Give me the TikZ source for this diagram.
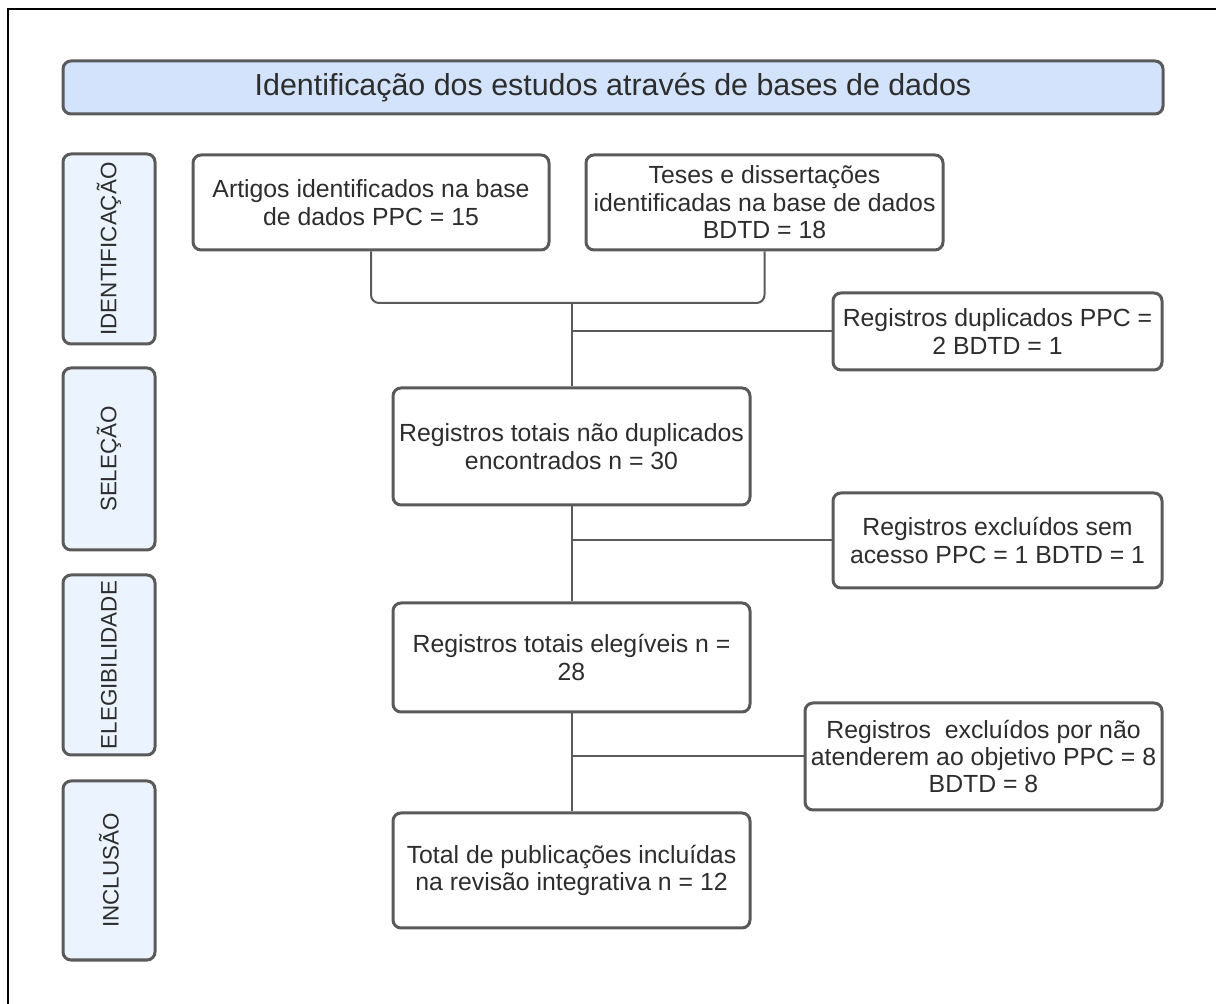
\documentclass[tikz,border=0pt]{standalone}
\usepackage{fontspec}
\setmainfont{Liberation Sans}
\usepackage{tikz}
\usetikzlibrary{calc}
\definecolor{edge}{RGB}{90, 90, 90}
\definecolor{ink}{RGB}{45, 45, 45}
\definecolor{headfill}{RGB}{210, 227, 251}
\definecolor{sidefill}{RGB}{234, 243, 254}

\tikzset{
  box/.style={draw=edge, line width=1.5pt, rounded corners=4pt, fill=white,
    align=center, text=ink, inner sep=0pt,
    font=\fontsize{12.4}{13.7}\selectfont},
  sidebox/.style={box, fill=sidefill, rotate=90, minimum height=46pt,
    font=\fontsize{11.2}{13}\selectfont},
  link/.style={draw=edge, line width=1pt}
}

\begin{document}
\begin{tikzpicture}[x=0.5pt, y=-0.5pt]

  \useasboundingbox (0, 0) rectangle (1216, 1004);
  \draw[black, line width=0.8pt] (8, 1004) -- (8, 9) -- (1216, 9);

  % header
  \node[box, fill=headfill, minimum width=550pt, minimum height=26.5pt,
    font=\fontsize{15.2}{18}\selectfont] (head) at (613, 87.5)
    {Identificação dos estudos através de bases de dados};

  % phases on the left
  \foreach \name/\y/\h/\phase in {ident/249/95/IDENTIFICAÇÃO, selec/459/91/SELEÇÃO,
      elig/665/90/ELEGIBILIDADE, incl/870.5/89.5/INCLUSÃO} {
    \node[sidebox, minimum width=\h pt] (\name) at (109, \y) {\phase};
  }

  % flow boxes
  \node[box, minimum width=178pt, minimum height=47.5pt] (art) at (371, 202.5)
    {Artigos identificados na base\\ de dados PPC = 15};
  \node[box, minimum width=178.5pt, minimum height=47.5pt] (tes) at (764.5, 202.5)
    {Teses e dissertações\\ identificadas na base de dados\\ BDTD = 18};
  \node[box, minimum width=164.5pt, minimum height=38.5pt] (dup) at (997.5, 331.5)
    {Registros duplicados PPC =\\ 2 BDTD = 1};
  \node[box, minimum width=178.5pt, minimum height=58.5pt] (tot) at (571.5, 446.5)
    {Registros totais não duplicados\\ encontrados n = 30};
  \node[box, minimum width=164.5pt, minimum height=47.5pt] (semacc) at (997.5, 540.5)
    {Registros excluídos sem\\ acesso PPC = 1 BDTD = 1};
  \node[box, minimum width=178.5pt, minimum height=54.5pt] (eleg) at (571.5, 657.5)
    {Registros totais elegíveis n =\\ 28};
  \node[box, minimum width=178.5pt, minimum height=53.5pt] (objet) at (983.5, 756.5)
    {Registros\ \ excluídos por não\\ atenderem ao objetivo PPC = 8\\ BDTD = 8};
  \node[box, minimum width=178.5pt, minimum height=57.5pt] (final) at (571.5, 870.5)
    {Total de publicações incluídas\\ na revisão integrativa n = 12};

  % connectors
  \coordinate (join) at (571.5, 303);
  \draw[link, rounded corners=4pt] (art.south) |- (join) -| (tes.south);
  \draw[link] (join) -- (tot.north);
  \draw[link] (join |- dup.west) -- (dup.west);
  \draw[link] (tot.south) -- (eleg.north);
  \draw[link] (tot.south |- semacc.west) -- (semacc.west);
  \draw[link] (eleg.south) -- (final.north);
  \draw[link] (eleg.south |- objet.west) -- (objet.west);

\end{tikzpicture}
\end{document}
